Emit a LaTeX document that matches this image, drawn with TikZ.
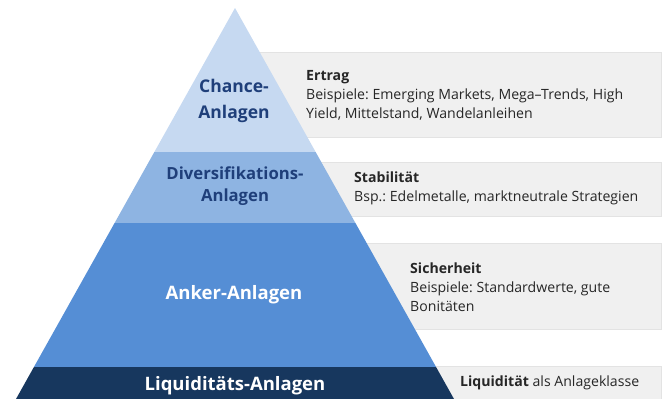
\documentclass[tikz,border=0pt]{standalone}
\usepackage{fontspec}
\setmainfont{Open Sans}
\frenchspacing
\definecolor{bandone}{HTML}{C6D9F1}
\definecolor{bandtwo}{HTML}{8EB4E2}
\definecolor{bandthree}{HTML}{558ED5}
\definecolor{bandfour}{HTML}{17375E}
\definecolor{boxgray}{HTML}{F0F0F0}
\definecolor{boxline}{HTML}{E3E3E3}
\definecolor{labelblue}{HTML}{1F3F7A}
\definecolor{textdark}{HTML}{262626}
\tikzset{infobox/.style={fill=boxgray,draw=boxline,line width=0.8pt},
 pyrlabel/.style={font=\bfseries\fontsize{18.5}{26}\selectfont,align=center,inner sep=0pt},
 infotext/.style={font=\fontsize{14.1}{19}\selectfont,align=left,anchor=west,
  text=textdark,inner sep=0pt},
 }

\begin{document}
\begin{tikzpicture}[x=1pt,y=-1pt]
        \useasboundingbox (0,0) rectangle (667,399);

        % grey boxes behind the pyramid
        \foreach \top/\bot in {52/137, 162/216, 243/329, 366/399.5} {
            \draw[infobox] (235,\top) rectangle (661,\bot);
        }

        % pyramid bands
        \coordinate (apex) at (235,8);
        \coordinate (baseL) at (16,399);
        \coordinate (baseR) at (454,399);
        \begin{scope}
            \clip (apex) -- (baseL) -- (baseR) -- cycle;
            \foreach \top/\bot/\col in {0/152/bandone, 152/223/bandtwo, 223/367/bandthree, 367/400/bandfour} {
                \fill[\col] (0,\top) rectangle (667,\bot);
            }
        \end{scope}

        \node[pyrlabel, text=labelblue, font=\bfseries\fontsize{17.5}{26}\selectfont] (chance) at (234,101) {Chance-\\Anlagen};
        \node[pyrlabel, text=labelblue, font=\bfseries\fontsize{16.7}{21.5}\selectfont] (divers) at (235,186) {Diversifikations-\\Anlagen};
        \node[pyrlabel, text=white] (anker) at (234,295) {Anker-Anlagen};
        \node[pyrlabel, text=white] (liqui) at (235,386) {Liquiditäts-Anlagen};

        \node[infotext] (ertrag) at (306,95) {\textbf{Ertrag}\\Beispiele: Emerging Markets, Mega--Trends, High\\Yield, Mittelstand, Wandelanleihen};
        \node[infotext] (stabil) at (354,188) {\textbf{Stabilität}\\Bsp.: Edelmetalle, marktneutrale Strategien};
        \node[infotext] (sicher) at (410,287) {\textbf{Sicherheit}\\Beispiele: Standardwerte, gute\\Bonitäten};
        \node[infotext] (liqtext) at (460,383) {\textbf{Liquidität} als Anlageklasse};
\end{tikzpicture}
\end{document}
